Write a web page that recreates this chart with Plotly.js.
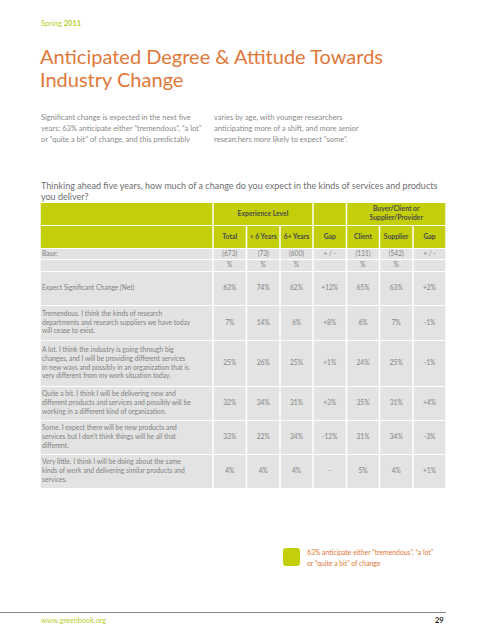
<!DOCTYPE html>
<html>
<head>
<meta charset="utf-8">
<script src="https://cdn.plot.ly/plotly-3.0.1.min.js"></script>
<style>html,body{margin:0;padding:0;background:#fff;}#chart{width:486px;height:640px;}</style>
</head>
<body>
<div id="chart"></div>
<script>
// ---------- DATA ----------
const columnHeaders = ['Total', '< 6 Years', '6+ Years', 'Gap', 'Client', 'Supplier', 'Gap'];
const groupHeaders = ['Experience Level', '', 'Buyer/Client or<br>Supplier/Provider'];
const baseLabel = 'Base:';
const baseValues = ['(673)', '(73)', '(600)', '+ / -', '(131)', '(542)', '+ / -'];
const unitRow = ['%', '%', '%', '', '%', '%', ''];
const rowLabels = [
  'Expect Significant Change (Net)',
  'Tremendous. I think the kinds of research<br>departments and research suppliers we have today<br>will cease to exist.',
  'A lot. I think the industry is going through big<br>changes, and I will be providing different services<br>in new ways and possibly in an organization that is<br>very different from my work situation today.',
  'Quite a bit. I think I will be delivering new and<br>different products and services and possibly will be<br>working in a different kind of organization.',
  'Some. I expect there will be new products and<br>services but I don\u2019t think things will be all that<br>different.',
  'Very little. I think I will be doing about the same<br>kinds of work and delivering similar products and<br>services.'
];
const totalPct    = [63, 7, 25, 32, 33, 4];
const under6Pct   = [74, 14, 26, 34, 22, 4];
const over6Pct    = [62, 6, 25, 31, 34, 4];
const expGap      = [12, 8, 1, 3, -12, 0];
const clientPct   = [65, 6, 24, 35, 31, 5];
const supplierPct = [63, 7, 25, 31, 34, 4];
const bcGap       = [2, -1, -1, 4, -3, 1];

// ---------- LAYOUT GEOMETRY ----------
const colEdges = [40, 213, 246.5, 280, 313, 346.5, 379.5, 413, 446];
const headRows = [[203, 225], [226, 248]];
const baseRow = [249, 259];
const unitRowY = [260, 271];
const dataRows = [[272, 305], [306, 340], [341, 386], [387, 420], [421, 454], [455, 488]];

const GREEN = '#c4cf0b';
const GREY = '#e2e3e2';
const ORANGE = '#e0783a';
const TXT = '#828282';
const HEAD = '#4a4a4a';
const FONT = 'Lato, "Open Sans", sans-serif';

const pct = v => v + '%';
const gap = v => v > 0 ? '+' + v + '%' : (v < 0 ? '-' + Math.abs(v) + '%' : '-');
const bold = s => s ? '<b>' + s.split('<br>').join('</b><br><b>') + '</b>' : s;

const series = [
  totalPct.map(pct), under6Pct.map(pct), over6Pct.map(pct), expGap.map(gap),
  clientPct.map(pct), supplierPct.map(pct), bcGap.map(gap)
];

const shapes = [];
function rect(x0, x1, y0, y1, color) {
  shapes.push({type: 'rect', xref: 'x', yref: 'y', x0: x0 + 0.75, x1: x1 - 0.75, y0: y0, y1: y1,
    fillcolor: color, line: {width: 0}, layer: 'below'});
}
// header row 1 (merged groups)
rect(colEdges[0], colEdges[1], headRows[0][0], headRows[0][1], GREEN);
rect(colEdges[1], colEdges[4], headRows[0][0], headRows[0][1], GREEN);
rect(colEdges[4], colEdges[5], headRows[0][0], headRows[0][1], GREEN);
rect(colEdges[5], colEdges[8], headRows[0][0], headRows[0][1], GREEN);
// header row 2
for (let c = 0; c < 8; c++) rect(colEdges[c], colEdges[c + 1], headRows[1][0], headRows[1][1], GREEN);
// body rows
[baseRow, unitRowY].concat(dataRows).forEach(r => {
  for (let c = 0; c < 8; c++) rect(colEdges[c], colEdges[c + 1], r[0], r[1], GREY);
});

const centers = [];
for (let c = 1; c < 8; c++) centers.push((colEdges[c] + colEdges[c + 1]) / 2);
const mid = r => (r[0] + r[1]) / 2;

const traces = [];
// data values
series.forEach((vals, ci) => {
  traces.push({
    type: 'scatter', mode: 'text', x: vals.map(() => centers[ci]), y: dataRows.map(mid),
    text: vals, textposition: 'middle center', hoverinfo: 'skip', showlegend: false,
    textfont: {family: FONT, size: 6.6, color: TXT}, cliponaxis: false
  });
});
// base & unit rows
traces.push({type: 'scatter', mode: 'text', x: centers, y: centers.map(() => mid(baseRow)), text: baseValues,
  textposition: 'middle center', hoverinfo: 'skip', showlegend: false, textfont: {family: FONT, size: 6.6, color: TXT}});
traces.push({type: 'scatter', mode: 'text', x: centers, y: centers.map(() => mid(unitRowY)), text: unitRow,
  textposition: 'middle center', hoverinfo: 'skip', showlegend: false, textfont: {family: FONT, size: 6.6, color: TXT}});
// row labels
traces.push({type: 'scatter', mode: 'text', x: [colEdges[0] + 2, colEdges[0] + 2].concat(dataRows.map(() => colEdges[0] + 2)),
  y: [mid(baseRow), mid(unitRowY)].concat(dataRows.map(mid)), text: [baseLabel, ''].concat(rowLabels),
  textposition: 'middle right', hoverinfo: 'skip', showlegend: false, textfont: {family: FONT, size: 6.7, color: TXT}});
// column headers
traces.push({type: 'scatter', mode: 'text', x: centers, y: centers.map(() => mid(headRows[1])), text: columnHeaders.map(bold),
  textposition: 'middle center', hoverinfo: 'skip', showlegend: false,
  textfont: {family: FONT, size: 6.8, color: HEAD}});
// group headers
traces.push({type: 'scatter', mode: 'text',
  x: [(colEdges[1] + colEdges[4]) / 2, (colEdges[4] + colEdges[5]) / 2, (colEdges[5] + colEdges[8]) / 2],
  y: [mid(headRows[0]), mid(headRows[0]), mid(headRows[0])], text: groupHeaders.map(bold),
  textposition: 'middle center', hoverinfo: 'skip', showlegend: false,
  textfont: {family: FONT, size: 6.8, color: HEAD}});

// callout square (rounded)
const sq = [283, 300, 548, 566], rr = 3;
shapes.push({type: 'path', xref: 'x', yref: 'y', fillcolor: GREEN, line: {width: 0},
  path: `M ${sq[0] + rr} ${sq[2]} L ${sq[1] - rr} ${sq[2]} Q ${sq[1]} ${sq[2]} ${sq[1]} ${sq[2] + rr} L ${sq[1]} ${sq[3] - rr} Q ${sq[1]} ${sq[3]} ${sq[1] - rr} ${sq[3]} L ${sq[0] + rr} ${sq[3]} Q ${sq[0]} ${sq[3]} ${sq[0]} ${sq[3] - rr} L ${sq[0]} ${sq[2] + rr} Q ${sq[0]} ${sq[2]} ${sq[0] + rr} ${sq[2]} Z`});
// footer rule
shapes.push({type: 'line', xref: 'x', yref: 'y', x0: 0, x1: 446, y0: 612.5, y1: 612.5, line: {color: '#8a8a8a', width: 1}});

function ann(text, x, y, size, color, xanchor, extra) {
  return Object.assign({text: text, x: x, y: y, xref: 'x', yref: 'y', xanchor: xanchor || 'left', yanchor: 'middle',
    showarrow: false, font: {family: FONT, size: size, color: color}, align: 'left'}, extra || {});
}
const annotations = [
  ann('Spring <b>2011</b>', 39, 23, 7.5, '#b7ce2c'),
  ann('Anticipated Degree &amp; Attitude Towards', 38, 56, 20, ORANGE),
  ann('Industry Change', 38, 79, 20, ORANGE),
  ann('Significant change is expected in the next five', 39, 117, 7.5, '#8a8a8a'),
  ann('years: 63% anticipate either \u201ctremendous\u201d, \u201ca lot\u201d', 39, 128.3, 7.5, '#8a8a8a'),
  ann('or \u201cquite a bit\u201d of change, and this predictably', 39, 139.6, 7.5, '#8a8a8a'),
  ann('varies by age, with younger researchers', 212, 117, 7.5, '#8a8a8a'),
  ann('anticipating more of a shift, and more senior', 212, 128.3, 7.5, '#8a8a8a'),
  ann('researchers more likely to expect \u201csome\u201d.', 212, 139.6, 7.5, '#8a8a8a'),
  ann('Thinking ahead five years, how much of a change do you expect in the kinds of services and products', 39, 185.3, 9, '#6e6e6e'),
  ann('you deliver?', 39, 196.7, 9, '#6e6e6e'),
  ann('63% anticipate either \u201ctremendous\u201d, \u201ca lot\u201d', 305, 552.7, 6.8, ORANGE),
  ann('or \u201cquite a bit\u201d of change', 305, 562.7, 6.8, ORANGE),
  ann('www.greenbook.org', 39, 620, 7.3, '#b7ce2c'),
  ann('<b>29</b>', 446, 620, 7.5, '#222', 'right')
];

const layout = {
  width: 486, height: 640, margin: {l: 0, r: 0, t: 0, b: 0},
  paper_bgcolor: '#fff', plot_bgcolor: '#fff',
  xaxis: {range: [0, 486], visible: false, fixedrange: true},
  yaxis: {range: [640, 0], visible: false, fixedrange: true},
  shapes: shapes, annotations: annotations, showlegend: false
};
Plotly.newPlot('chart', traces, layout, {displayModeBar: false, staticPlot: true});
</script>
</body>
</html>
